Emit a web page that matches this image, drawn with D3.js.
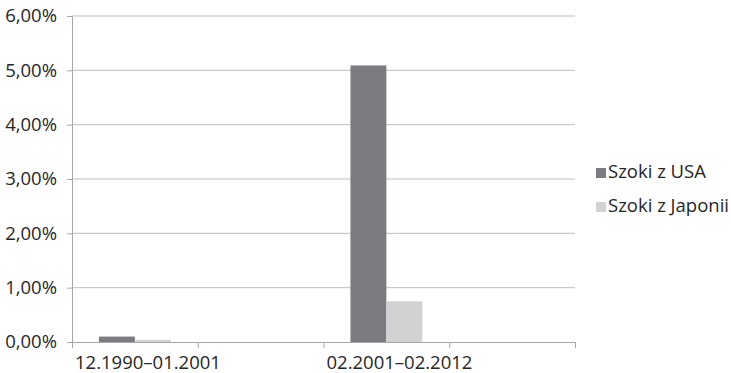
<!DOCTYPE html>
<html>
<head>
<meta charset="utf-8">
<script src="https://cdn.jsdelivr.net/npm/d3@7"></script>
<style>
  body { margin: 0; background: #fff; }
  svg text { font-family: "Open Sans", sans-serif; fill: #262626; }
</style>
</head>
<body>
<svg id="chart" width="731" height="373"></svg>
<script>
// chart data
const categories = ["12.1990–01.2001", "", "02.2001–02.2012", ""];
const seriesNames = ["Szoki z USA", "Szoki z Japonii"];
const usaValues = [0.10, null, 5.09, null];
const japanValues = [0.04, null, 0.75, null];
const yTicks = [0, 1, 2, 3, 4, 5, 6];
const colors = ["#7b7c80", "#d1d2d4"];

const fontSize = 18.5;
const svg = d3.select("#chart");
const margin = {top: 16, right: 156, bottom: 31, left: 72};
const width = 731 - margin.left - margin.right,
      height = 373 - margin.top - margin.bottom;

const g = svg.append("g")
  .attr("transform", "translate(" + margin.left + "," + margin.top + ")");

// scales
const x = d3.scaleBand().domain(d3.range(categories.length)).range([0, width]);
const y = d3.scaleLinear().domain([0, 6]).range([height, 0]);
// gap width 150% like Excel: step = 2 bars + 1.5 bar widths
const barW = x.step() / 3.5;
const inner = d3.scaleBand().domain([0, 1])
  .range([barW * 0.75, barW * 2.75]);

// gridlines
g.append("g")
  .selectAll("line")
  .data(yTicks.filter(d => d > 0))
  .join("line")
    .attr("x1", 0).attr("x2", width)
    .attr("y1", d => y(d)).attr("y2", d => y(d))
    .attr("stroke", "#bfbfbf").attr("stroke-width", 1);

// y axis
const yAxis = g.append("g")
  .call(d3.axisLeft(y).tickValues(yTicks).tickSize(5).tickPadding(10)
    .tickFormat(d => d3.format(".2f")(d).replace(".", ",") + "%"));
yAxis.select(".domain").attr("stroke", "#a6a6a6");
yAxis.selectAll(".tick line").attr("stroke", "#a6a6a6");
yAxis.selectAll("text").attr("font-size", fontSize).attr("fill", "#262626");

// bars
const series = [usaValues, japanValues];
series.forEach((vals, si) => {
  g.append("g")
    .selectAll("rect")
    .data(vals.map((v, i) => ({v, i})).filter(d => d.v != null))
    .join("rect")
      .attr("x", d => x(d.i) + inner(si))
      .attr("width", inner.bandwidth())
      .attr("y", d => y(d.v))
      .attr("height", d => height - y(d.v))
      .attr("fill", colors[si]);
});

// x axis
const xAxis = g.append("g").attr("transform", "translate(0," + height + ")");
xAxis.append("line").attr("x1", 0).attr("x2", width)
  .attr("y1", 0.5).attr("y2", 0.5).attr("stroke", "#a6a6a6");
xAxis.selectAll(".xt")
  .data(d3.range(categories.length + 1))
  .join("line")
    .attr("x1", d => d * x.step() + 0.5).attr("x2", d => d * x.step() + 0.5)
    .attr("y1", 0).attr("y2", 6)
    .attr("stroke", "#a6a6a6");
xAxis.selectAll("text")
  .data(categories)
  .join("text")
    .attr("x", (d, i) => x(i) + 3)
    .attr("y", 27)
    .attr("font-size", fontSize)
    .text(d => d);

// legend
const legend = svg.append("g").attr("transform", "translate(596,168)");
seriesNames.forEach((name, i) => {
  const row = legend.append("g").attr("transform", "translate(0," + i * 34 + ")");
  row.append("rect").attr("width", 10).attr("height", 10).attr("fill", colors[i]);
  row.append("text").attr("x", 12).attr("y", 10).attr("font-size", fontSize).text(name);
});
</script>
</body>
</html>
